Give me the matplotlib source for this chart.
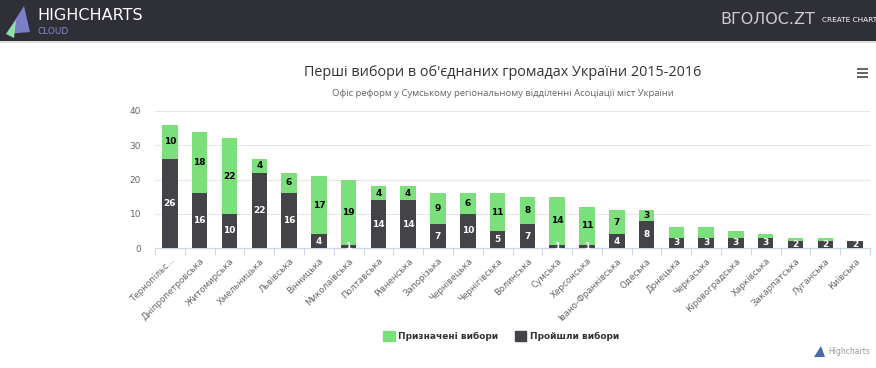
import matplotlib
matplotlib.use("Agg")
import matplotlib.pyplot as plt
import matplotlib.patches as mpatches
import numpy as np

W, H = 876, 368

regions = ["Тернопільс...", "Дніпропетровська", "Житомирська", "Хмельницька", "Львівська",
           "Вінницька", "Миколаївська", "Полтавська", "Рівненська", "Запорізька",
           "Чернівецька", "Чернігівська", "Волинська", "Сумська", "Херсонська",
           "Івано-Франківська", "Одеська", "Донецька", "Черкаська", "Кіровоградська",
           "Харківська", "Закарпатська", "Луганська", "Київська"]
passed = [26, 16, 10, 22, 16, 4, 1, 14, 14, 7, 10, 5, 7, 1, 1, 4, 8, 3, 3, 3, 3, 2, 2, 2]
scheduled = [10, 18, 22, 4, 6, 17, 19, 4, 4, 9, 6, 11, 8, 14, 11, 7, 3, 3, 3, 2, 1, 1, 1, 0]

GREEN = "#7be07b"
DARK = "#434348"


def fx(px):
    return px / W


def fy(py):
    return 1 - py / H


fig = plt.figure(figsize=(W / 100, H / 100), dpi=100)

# header band
fig.patches.append(mpatches.Rectangle((0, fy(41)), 1, 41 / H, transform=fig.transFigure,
                                      fc="#2e2f37", ec="none", zorder=0))
fig.patches.append(mpatches.Rectangle((0, fy(43)), 1, 2 / H, transform=fig.transFigure,
                                      fc="#dcdcdc", ec="none", zorder=0))
fig.patches.append(mpatches.Polygon([(fx(6), fy(34)), (fx(24), fy(6)), (fx(30), fy(32))],
                                    closed=True, transform=fig.transFigure,
                                    fc="#7a7fc8", ec="none"))
fig.patches.append(mpatches.Polygon([(fx(6), fy(34)), (fx(16), fy(20)), (fx(14), fy(38))],
                                    closed=True, transform=fig.transFigure,
                                    fc="#8fe0a8", ec="none"))
fig.text(fx(37), fy(16), "HIGHCHARTS", color="white", fontsize=11.5, va="center",
         family="DejaVu Sans")
fig.text(fx(37), fy(31), "CLOUD", color="#8d88c6", fontsize=6.5, va="center",
         family="DejaVu Sans")
fig.text(fx(720), fy(19), "ВГОЛОС.ZT", color="#cfcfcf", fontsize=11.5, va="center",
         family="DejaVu Sans")
fig.text(fx(822), fy(20), "CREATE CHART", color="white", fontsize=5.3, va="center",
         family="DejaVu Sans")

# titles
fig.text(fx(503), fy(72), "Перші вибори в об'єднаних громадах України 2015-2016",
         ha="center", va="center", fontsize=10.4, color="#333333", family="Open Sans")
fig.text(fx(503), fy(94), "Офіс реформ у Сумському регіональному відділенні Асоціації міст України",
         ha="center", va="center", fontsize=6.8, color="#666666", family="Open Sans")
# menu icon
for dy in (69, 73, 77):
    fig.patches.append(mpatches.Rectangle((fx(857), fy(dy + 1)), 11 / W, 2 / H,
                                          transform=fig.transFigure, fc="#666666", ec="none"))

ax = fig.add_axes([fx(155), fy(248), fx(870) - fx(155), fy(111) - fy(248)])
x = np.arange(len(regions))
ax.bar(x, passed, width=0.52, color=DARK, zorder=3)
ax.bar(x, scheduled, width=0.52, bottom=passed, color=GREEN, zorder=3)

for i in range(len(regions)):
    p, s = passed[i], scheduled[i]
    ax.text(i, p / 2, str(p), ha="center", va="center", color="white", fontsize=6.5,
            fontweight="bold", zorder=4, family="DejaVu Sans")
    if s > 0 and p + s >= 7:
        ax.text(i, p + s / 2, str(s), ha="center", va="center", color="black", fontsize=6.5,
                fontweight="bold", zorder=4, family="DejaVu Sans")

ax.set_xlim(-0.5, len(regions) - 0.5)
ax.set_ylim(0, 40)
ax.set_yticks([0, 10, 20, 30, 40])
ax.grid(axis="y", color="#e6e6e6", lw=0.8, zorder=0)
for side in ("top", "right", "left"):
    ax.spines[side].set_visible(False)
ax.spines["bottom"].set_color("#ccd6eb")
ax.tick_params(axis="y", length=0, labelsize=6.5, labelcolor="#666666", pad=10)
ax.set_xticks(x)
ax.set_xticklabels(regions, rotation=45, ha="right", va="top", rotation_mode="anchor",
                   fontsize=6.3, color="#666666", family="DejaVu Sans")
ax.tick_params(axis="x", length=0, pad=6)
ax.set_xticks(np.arange(-0.5, len(regions)), minor=True)
ax.tick_params(axis="x", which="minor", length=5, color="#ccd6eb", width=0.8)

handles = [mpatches.Patch(color=GREEN, label="Призначені вибори"),
           mpatches.Patch(color=DARK, label="Пройшли вибори")]
fig.legend(handles=handles, loc="center", bbox_to_anchor=(fx(501), fy(336)), ncol=2,
           frameon=False, prop={"size": 6.5, "weight": "bold", "family": "DejaVu Sans"},
           handlelength=1.3, handleheight=1.3, handletextpad=0.4, columnspacing=1.8,
           labelcolor="#333333")

fig.patches.append(mpatches.Polygon([(fx(814), fy(357)), (fx(821), fy(346)), (fx(825), fy(357))],
                                    closed=True, transform=fig.transFigure,
                                    fc="#4b6aa8", ec="none"))
fig.text(fx(828), fy(352), "Highcharts", fontsize=5.5, color="#999999", va="center",
         family="DejaVu Sans")

fig.savefig("out.png", dpi=100)
